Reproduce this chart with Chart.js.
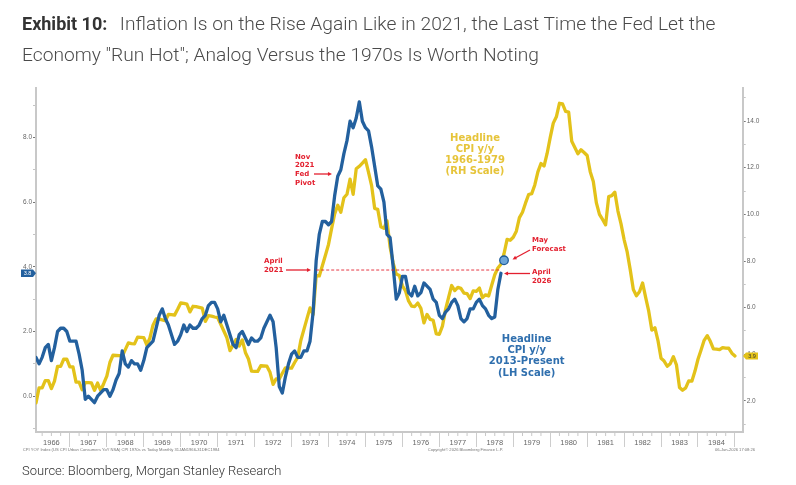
<!DOCTYPE html>
<html><head><meta charset="utf-8">
<script src="https://cdn.jsdelivr.net/npm/chart.js@4.4.1/dist/chart.umd.min.js"></script>
<style>
html,body{margin:0;padding:0;background:#fff;}
#wrap{position:relative;width:796px;height:485px;overflow:hidden;background:#fff;}
#c{position:absolute;left:0;top:0;}
.title{position:absolute;left:22px;top:9.2px;font-family:Roboto,sans-serif;font-size:19.2px;line-height:30.5px;color:#4a4a4a;font-weight:300;white-space:nowrap;}
.title b{font-weight:700;color:#333;font-size:18px;}
.source{position:absolute;left:22px;top:464px;font-family:Roboto,sans-serif;font-size:13px;line-height:13px;color:#333;font-weight:300;white-space:nowrap;}
</style></head>
<body><div id="wrap">
<canvas id="c" width="796" height="485"></canvas>
<div class="title"><b>Exhibit 10:</b><span style="margin-left:12.5px">Inflation Is on the Rise Again Like in 2021, the Last Time the Fed Let the</span><br>Economy "Run Hot"; Analog Versus the 1970s Is Worth Noting</div>
<div class="source">Source: Bloomberg, Morgan Stanley Research</div>
</div>
<script>
// ---------- DATA ----------
// Headline CPI y/y 1966-1984 (RH scale), monthly from Jan 1966
const yellowStart = [1966, 1];
const yellowValues = [
  1.92, 2.56, 2.56, 2.87, 2.87, 2.53, 2.85, 3.48, 3.48, 3.79, 3.79, 3.46,
  3.46, 2.81, 2.81, 2.48, 2.79, 2.79, 2.78, 2.46, 2.77, 2.45, 2.75, 3.07,
  3.65, 3.96, 3.95, 3.94, 3.92, 4.20, 4.49, 4.46, 4.45, 4.74, 4.73, 4.72,
  4.40, 4.70, 5.25, 5.52, 5.51, 5.48, 5.44, 5.71, 5.70, 5.68, 5.93, 6.20,
  6.18, 6.15, 5.82, 6.06, 6.04, 6.01, 5.98, 5.41, 5.66, 5.64, 5.60, 5.57,
  5.29, 5.00, 4.71, 4.16, 4.40, 4.64, 4.36, 4.62, 4.08, 3.80, 3.28, 3.27,
  3.27, 3.51, 3.50, 3.49, 3.23, 2.71, 2.95, 2.94, 3.19, 3.42, 3.41, 3.41,
  3.65, 3.87, 4.59, 5.06, 5.53, 5.99, 5.70, 7.38, 7.36, 7.80, 8.25, 8.71,
  9.39, 10.02, 10.39, 10.09, 10.71, 10.86, 11.51, 10.86, 11.95, 12.06, 12.20, 12.34,
  11.80, 11.23, 10.25, 10.21, 9.47, 9.40, 9.72, 8.60, 7.91, 7.44, 7.38, 6.94,
  6.72, 6.29, 6.07, 6.05, 6.20, 5.97, 5.35, 5.71, 5.50, 5.46, 4.88, 4.86,
  5.21, 5.91, 6.44, 6.95, 6.73, 6.87, 6.83, 6.62, 6.60, 6.39, 6.72, 6.70,
  6.84, 6.43, 6.55, 6.50, 6.96, 7.41, 7.70, 7.86, 8.31, 8.93, 8.89, 9.02,
  9.28, 9.86, 10.09, 10.49, 10.85, 10.89, 11.26, 11.82, 12.18, 12.07, 12.61, 13.29,
  13.91, 14.18, 14.76, 14.73, 14.41, 14.38, 13.13, 12.87, 12.60, 12.77, 12.65, 12.52,
  11.83, 11.41, 10.49, 10.00, 9.78, 9.55, 10.76, 10.80, 10.95, 10.14, 9.59, 8.92,
  8.39, 7.62, 6.78, 6.51, 6.68, 7.06, 6.44, 5.85, 5.04, 5.14, 4.59, 3.83,
  3.71, 3.49, 3.60, 3.90, 3.55, 2.58, 2.46, 2.56, 2.86, 2.85, 3.27, 3.79,
  4.19, 4.60, 4.80, 4.56, 4.23, 4.22, 4.20, 4.29, 4.27, 4.26, 4.05, 3.93
];
// Headline CPI y/y 2013-present (LH scale), monthly from Sep 2013
const blueStart = [2013, 9];
const blueValues = [
  1.2, 1.0, 1.2, 1.5,
  1.6, 1.1, 1.5, 2.0, 2.1, 2.1, 2.0, 1.7, 1.7, 1.7, 1.3, 0.8,
  -0.1, 0.0, -0.1, -0.2, 0.0, 0.1, 0.2, 0.2, 0.0, 0.2, 0.5, 0.7,
  1.4, 1.0, 0.9, 1.1, 1.0, 1.0, 0.8, 1.1, 1.5, 1.6, 1.7, 2.1,
  2.5, 2.7, 2.4, 2.2, 1.9, 1.6, 1.7, 1.9, 2.2, 2.0, 2.2, 2.1,
  2.1, 2.2, 2.4, 2.5, 2.8, 2.9, 2.9, 2.7, 2.3, 2.5, 2.2, 1.9,
  1.6, 1.5, 1.9, 2.0, 1.8, 1.6, 1.8, 1.7, 1.7, 1.8, 2.1, 2.3,
  2.5, 2.3, 1.5, 0.3, 0.1, 0.6, 1.0, 1.3, 1.4, 1.2, 1.2, 1.4,
  1.4, 1.7, 2.6, 4.2, 5.0, 5.4, 5.4, 5.3, 5.4, 6.2, 6.8, 7.0,
  7.5, 7.9, 8.5, 8.3, 8.6, 9.1, 8.5, 8.3, 8.2, 7.7, 7.1, 6.5,
  6.4, 6.0, 5.0, 4.9, 4.0, 3.0, 3.2, 3.7, 3.7, 3.2, 3.1, 3.4,
  3.1, 3.2, 3.5, 3.4, 3.3, 3.0, 2.9, 2.5, 2.4, 2.6, 2.7, 2.9,
  3.0, 2.8, 2.4, 2.3, 2.4, 2.7, 2.7, 2.9, 3.0, 2.8, 2.7, 2.5,
  2.4, 2.45, 3.3, 3.8
];
const blueShiftMonths = 572;          // 2013-present series laid onto the 1966-1984 timeline
const mayForecastValue = 4.2;          // May 2026 forecast point
const referenceLevel = 3.9;            // dashed April 2021 -> April 2026 level
const referenceStart = [2021, 4];
const referenceEnd = [2026, 4];
const yearLabels = [1966,1967,1968,1969,1970,1971,1972,1973,1974,1975,1976,1977,1978,1979,1980,1981,1982,1983,1984];
const leftTickValues = [-1,0,1,2,3,4,5,6,7,8,9];
const rightTickValues = [1,2,3,4,5,6,7,8,9,10,11,12,13,14,15];

// ---------- HELPERS ----------
function monthEnd(year, month, shift) { return year + (month - (shift || 0)) / 12; }
const BLUE = '#23609e', YELLOW = '#e3c21a', RED = '#e3202f';
const BLUE_TEXT = '#2f6fae', YELLOW_TEXT = '#e6c43a';

const yellowData = yellowValues.map((v, i) => ({ x: monthEnd(yellowStart[0], yellowStart[1] + i), y: v }));
const blueData = blueValues.map((v, i) => ({ x: monthEnd(blueStart[0], blueStart[1] + i, blueShiftMonths), y: v }));
const forecastData = [{ x: monthEnd(blueStart[0], blueStart[1] + blueValues.length, blueShiftMonths), y: mayForecastValue }];
const referenceData = [
  { x: monthEnd(referenceStart[0], referenceStart[1], blueShiftMonths), y: referenceLevel },
  { x: monthEnd(referenceEnd[0], referenceEnd[1], blueShiftMonths), y: referenceLevel }
];

const xTicks = [];
yearLabels.forEach(y => { xTicks.push({ value: y + 0.5 }); xTicks.push({ value: y + 1 }); });

const tickFont = { family: '"Liberation Sans", Arial, sans-serif', size: 6.5 };

// ---------- PLUGINS ----------
function textLines(ctx, lines, x, y, lh) { lines.forEach((t, i) => ctx.fillText(t, x, y + i * lh)); }
function arrow(ctx, x1, y1, x2, y2) {
  const a = Math.atan2(y2 - y1, x2 - x1), h = 4.5;
  ctx.beginPath(); ctx.moveTo(x1, y1); ctx.lineTo(x2 - Math.cos(a) * 2, y2 - Math.sin(a) * 2); ctx.stroke();
  ctx.beginPath(); ctx.moveTo(x2, y2);
  ctx.lineTo(x2 - h * Math.cos(a - 0.45), y2 - h * Math.sin(a - 0.45));
  ctx.lineTo(x2 - h * Math.cos(a + 0.45), y2 - h * Math.sin(a + 0.45));
  ctx.closePath(); ctx.fill();
}
const annotations = {
  id: 'annotations',
  afterDatasetsDraw(chart) {
    const ctx = chart.ctx;
    ctx.save();
    ctx.fillStyle = RED; ctx.strokeStyle = RED; ctx.lineWidth = 1.3;
    ctx.font = 'bold 7px "DejaVu Sans", sans-serif'; ctx.textBaseline = 'middle'; ctx.textAlign = 'left';
    textLines(ctx, ['Nov', '2021', 'Fed', 'Pivot'], 295, 157, 8.6);
    textLines(ctx, ['April', '2021'], 264, 261, 9);
    textLines(ctx, ['May', 'Forecast'], 532, 240, 9.3);
    textLines(ctx, ['April', '2026'], 532, 271.7, 9.3);
    arrow(ctx, 314, 174, 332, 174);
    arrow(ctx, 286, 270, 311, 270);
    arrow(ctx, 530, 250, 512.5, 259.5);
    arrow(ctx, 530, 273.5, 504, 273.5);
    ctx.textAlign = 'center';
    ctx.font = 'bold 10px "DejaVu Sans", sans-serif';
    ctx.fillStyle = YELLOW_TEXT;
    textLines(ctx, ['Headline', 'CPI y/y', '1966-1979', '(RH Scale)'], 475, 138.3, 11.1);
    ctx.fillStyle = BLUE_TEXT;
    textLines(ctx, ['Headline', 'CPI y/y', '2013-Present', '(LH Scale)'], 526.7, 339.3, 11.3);
    ctx.restore();
  },
  afterDraw(chart) {
    const ctx = chart.ctx, xs = chart.scales.x, a = chart.chartArea;
    ctx.save();
    // quarter minor ticks on the time axis
    ctx.strokeStyle = '#c8c8c8'; ctx.lineWidth = 1;
    yearLabels.forEach(y => [0.25, 0.5, 0.75].forEach(q => {
      const px = xs.getPixelForValue(y + q);
      ctx.beginPath(); ctx.moveTo(px, a.bottom + 1); ctx.lineTo(px, a.bottom + 4); ctx.stroke();
    }));
    // last-value tags
    const yl = chart.scales.yL, yr = chart.scales.yR;
    const lastBlue = blueValues[blueValues.length - 1], lastYellow = yellowValues[yellowValues.length - 1];
    let py = yl.getPixelForValue(lastBlue);
    ctx.fillStyle = BLUE;
    ctx.beginPath(); ctx.moveTo(21, py - 3.7); ctx.lineTo(33, py - 3.7); ctx.lineTo(36, py); ctx.lineTo(33, py + 3.7); ctx.lineTo(21, py + 3.7); ctx.closePath(); ctx.fill();
    ctx.fillStyle = '#fff'; ctx.font = '5.5px "Liberation Sans", sans-serif'; ctx.textAlign = 'center'; ctx.textBaseline = 'middle';
    ctx.fillText(lastBlue.toFixed(1), 27.5, py + 0.3);
    py = yr.getPixelForValue(lastYellow);
    ctx.fillStyle = YELLOW;
    ctx.beginPath(); ctx.moveTo(743, py); ctx.lineTo(746, py - 3.5); ctx.lineTo(758, py - 3.5); ctx.lineTo(758, py + 3.5); ctx.lineTo(746, py + 3.5); ctx.closePath(); ctx.fill();
    ctx.fillStyle = '#333';
    ctx.fillText(lastYellow.toFixed(1), 752, py + 0.3);
    // footnotes
    ctx.fillStyle = '#777'; ctx.font = '4.1px "Liberation Sans", sans-serif'; ctx.textAlign = 'left';
    ctx.fillText('CPI YOY Index (US CPI Urban Consumers YoY NSA) CPI 1970s vs Today Monthly 31JAN1966-31DEC1984', 22.7, 449.5);
    ctx.fillText('Copyright\u00A9 2026 Bloomberg Finance L.P.', 427.7, 449.5);
    ctx.fillText('06-Jun-2026 17:08:26', 715, 449.5);
    ctx.restore();
  }
};

// ---------- CHART ----------
new Chart(document.getElementById('c'), {
  type: 'line',
  data: {
    datasets: [
      { label: 'May Forecast', data: forecastData, yAxisID: 'yL', showLine: false,
        pointRadius: 4.3, pointBackgroundColor: '#6ea6d8', pointBorderColor: '#1f5d9a', pointBorderWidth: 1.3 },
      { label: 'Reference', data: referenceData, yAxisID: 'yL', borderColor: RED, borderWidth: 0.9,
        borderDash: [3, 2], pointRadius: 0 },
      { label: 'Headline CPI y/y 2013-Present (LH Scale)', data: blueData, yAxisID: 'yL',
        borderColor: BLUE, borderWidth: 3.3, pointRadius: 0, borderJoinStyle: 'round', borderCapStyle: 'round', tension: 0 },
      { label: 'Headline CPI y/y 1966-1979 (RH Scale)', data: yellowData, yAxisID: 'yR',
        borderColor: YELLOW, borderWidth: 3.3, pointRadius: 0, borderJoinStyle: 'round', borderCapStyle: 'round', tension: 0 }
    ]
  },
  options: {
    responsive: false,
    animation: false,
    parsing: true,
    layout: { padding: { top: 88, left: 0, right: 0, bottom: 23 } },
    plugins: { legend: { display: false }, tooltip: { enabled: false }, title: { display: false } },
    scales: {
      x: {
        type: 'linear', min: monthEnd(yellowStart[0], yellowStart[1]), max: 1985.21,
        afterBuildTicks: ax => { ax.ticks = xTicks.map(t => ({ value: t.value })); },
        afterFit: ax => { ax.height = 30; },
        ticks: {
          autoSkip: false, maxRotation: 0, minRotation: 0, padding: -8.5,
          font: { family: '"Liberation Sans", Arial, sans-serif', size: 7.5 }, color: '#666',
          callback: v => (Math.abs(v % 1 - 0.5) < 1e-6 ? String(Math.floor(v)) : '')
        },
        grid: {
          drawOnChartArea: false, drawTicks: true, tickLength: 15, lineWidth: 1,
          color: c => (c.tick && Math.abs(c.tick.value % 1) < 1e-6 ? '#cdcdcd' : 'rgba(0,0,0,0)')
        },
        border: { display: true, color: '#c8c8c8', width: 2 }
      },
      yL: {
        type: 'linear', position: 'left', min: -1.107, max: 9.527,
        afterBuildTicks: ax => { ax.ticks = leftTickValues.map(v => ({ value: v })); },
        afterFit: ax => { ax.width = 36; },
        ticks: { padding: 1, font: tickFont, color: '#666',
          callback: v => (v % 2 === 0 ? v.toFixed(1) : '') },
        grid: { drawOnChartArea: false, drawTicks: true, tickLength: 3,
          color: c => (c.tick && c.tick.value % 2 === 0 ? '#777' : '#c4c4c4') },
        border: { display: true, color: '#c8c8c8', width: 2 }
      },
      yR: {
        type: 'linear', position: 'right', min: 0.671, max: 15.415,
        afterBuildTicks: ax => { ax.ticks = rightTickValues.map(v => ({ value: v })); },
        afterFit: ax => { ax.width = 53.3; },
        ticks: { padding: 1, font: tickFont, color: '#666',
          callback: v => (v % 2 === 0 ? v.toFixed(1) : '') },
        grid: { drawOnChartArea: false, drawTicks: true, tickLength: 3,
          color: c => (c.tick && c.tick.value % 2 === 0 ? '#777' : '#c4c4c4') },
        border: { display: true, color: '#c8c8c8', width: 2 }
      }
    }
  },
  plugins: [annotations]
});
</script>
</body></html>
